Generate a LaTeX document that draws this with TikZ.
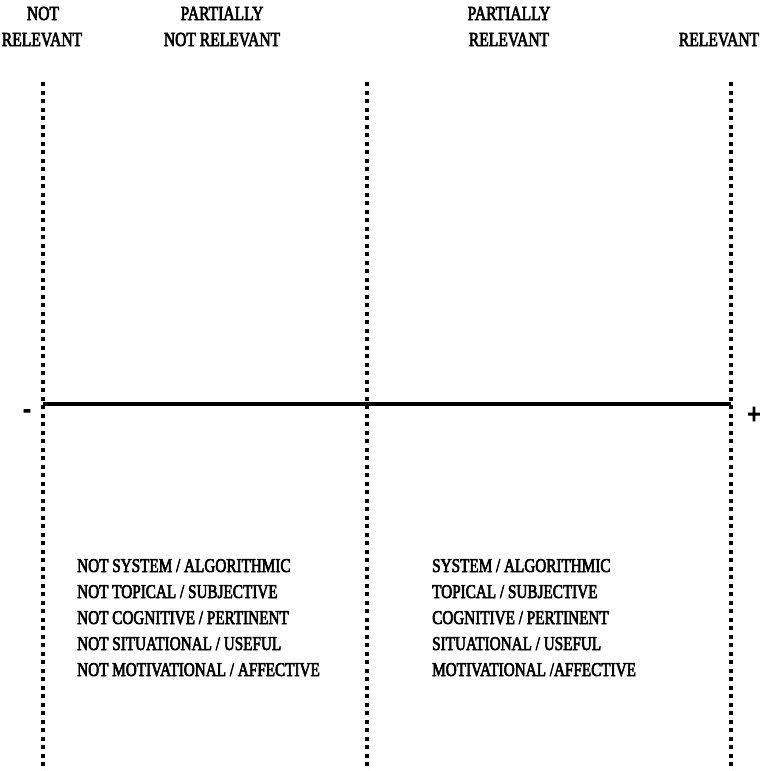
\documentclass[tikz,border=0pt]{standalone}
\usepackage{fontspec}
\setmainfont[FakeStretch=0.78,FakeBold=3]{Liberation Serif}
\usepackage{tikz}

\tikzset{
    heading/.style={font=\fontsize{20}{24}\selectfont, inner sep=0pt, anchor=base},
    rowtext/.style={font=\fontsize{19.5}{24}\selectfont, inner sep=0pt, anchor=base west},
    sign/.style={font=\fontsize{30}{34}\selectfont\bfseries, inner sep=0pt, anchor=base},
    gridline/.style={line width=3.5pt, dash pattern=on 4pt off 4.5pt},
    axisline/.style={line width=3.5pt},
}

\begin{document}
\begin{tikzpicture}[x=1pt,y=-1pt]
\useasboundingbox (0,0) rectangle (761,771);

% column headings
\node[heading] (notA)  at (43,20)  {NOT};
\node[heading] (notB)  at (42,46)  {RELEVANT};
\node[heading] (pnotA) at (222,20) {PARTIALLY};
\node[heading] (pnotB) at (222,46) {NOT RELEVANT};
\node[heading] (prelA) at (509,20) {PARTIALLY};
\node[heading] (prelB) at (509,46) {RELEVANT};
\node[heading] (rel)   at (719,46) {RELEVANT};

% dotted borders
\coordinate (topL) at (43,82);
\coordinate (botL) at (43,775);
\coordinate (topM) at (367,82);
\coordinate (botM) at (367,775);
\coordinate (topR) at (731,82);
\coordinate (botR) at (731,775);
\draw[gridline] (topL) -- (botL);
\draw[gridline] (topM) -- (botM);
\draw[gridline] (topR) -- (botR);

% scale
\coordinate (axL) at (43,404);
\coordinate (axR) at (731,404);
\draw[axisline] (axL) -- (axR);
\node[sign] (minus) at (27,418) {-};
\node[sign] (plus)  at (754,424) {+};

% criteria
\foreach \txt [count=\i from 0] in {NOT SYSTEM / ALGORITHMIC,NOT TOPICAL / SUBJECTIVE,NOT COGNITIVE / PERTINENT,NOT SITUATIONAL / USEFUL,NOT MOTIVATIONAL / AFFECTIVE}
    \node[rowtext] (nl\i) at (77,572+26*\i) {\txt};
\foreach \txt [count=\i from 0] in {SYSTEM / ALGORITHMIC,TOPICAL / SUBJECTIVE,COGNITIVE / PERTINENT,SITUATIONAL / USEFUL,MOTIVATIONAL /AFFECTIVE}
    \node[rowtext] (rl\i) at (432,572+26*\i) {\txt};
\end{tikzpicture}
\end{document}
